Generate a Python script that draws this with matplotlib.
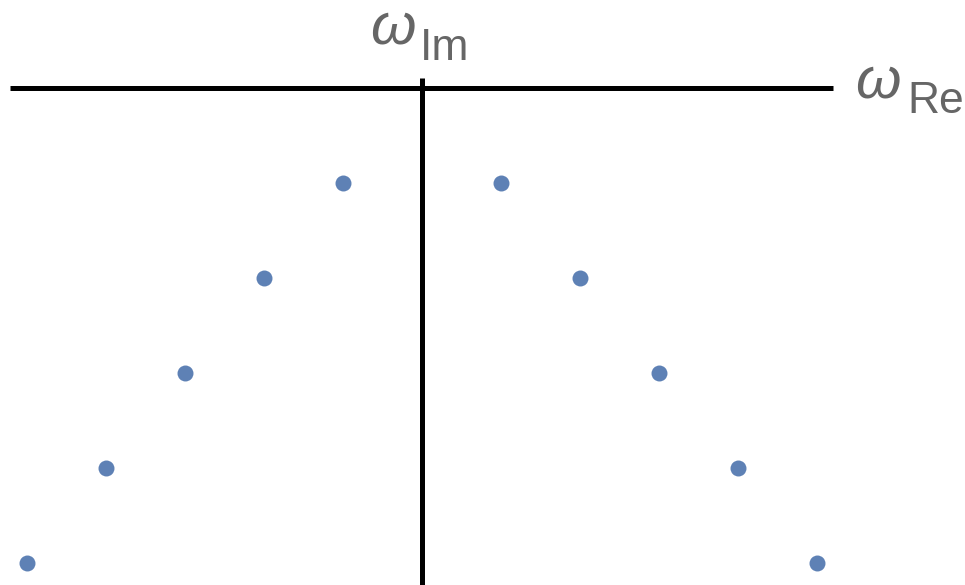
import matplotlib
matplotlib.use("Agg")
from matplotlib import pyplot as plt

# Data: points in the complex frequency plane
re_vals = [-5, -4, -3, -2, -1, 1, 2, 3, 4, 5]
im_vals = [-5, -4, -3, -2, -1, -1, -2, -3, -4, -5]

W, H = 965, 585
fig = plt.figure(figsize=(W / 100, H / 100), dpi=100)
ax = fig.add_axes([0, 0, 1, 1])

ax.plot(re_vals, im_vals, "o", color="#5E81B5", markersize=11.5, markeredgewidth=0)

ax.set_xlim(-5.343, 6.880)
ax.set_ylim(-5.237, 0.927)

for side in ["top", "right"]:
    ax.spines[side].set_visible(False)
ax.spines["left"].set_position(("data", 0))
ax.spines["bottom"].set_position(("data", 0))
ax.spines["left"].set_bounds(-5.3, 0.105)
ax.spines["bottom"].set_bounds(-5.216, 5.208)
for side in ["left", "bottom"]:
    ax.spines[side].set_linewidth(3.6)
    ax.spines[side].set_color("black")
    ax.spines[side].set_capstyle("butt")
ax.set_xticks([])
ax.set_yticks([])
ax.patch.set_alpha(0)

grey = "#666666"
fam = "Liberation Sans"


def label(x, y, sub, sub_x, sub_dy):
    fig.text(x / W, 1 - y / H, "ω", fontsize=42, style="italic", family=fam,
             color=grey, ha="left", va="baseline")
    fig.text(sub_x / W, 1 - (y + sub_dy) / H, sub, fontsize=32, family=fam,
             color=grey, ha="left", va="baseline")


label(370, 44, "Im", 420, 16)
label(855, 98, "Re", 907, 15)

fig.savefig("out.png", dpi=100)
